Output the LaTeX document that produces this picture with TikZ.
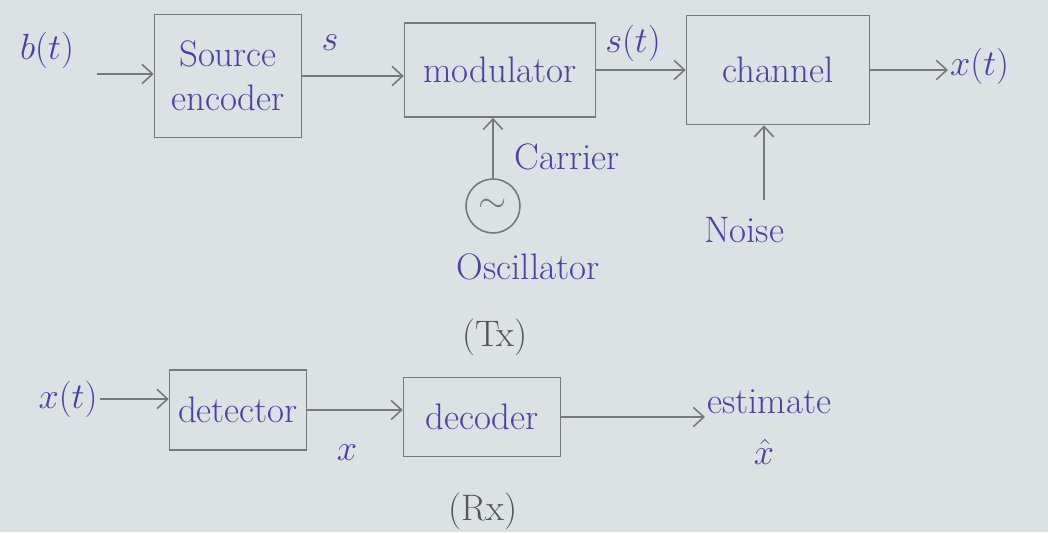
\documentclass[tikz,border=0pt]{standalone}
\usetikzlibrary{arrows.meta}
\definecolor{ink}{HTML}{4B40A6}
\definecolor{pencil}{HTML}{76797C}
\definecolor{paper}{HTML}{DCE2E3}
\begin{document}
\begin{tikzpicture}[>={Straight Barb[length=6pt,width=11pt]}, x=0.02cm, y=-0.02cm,
		font=\fontsize{21}{25}\selectfont,
		blk/.style={draw=pencil, line width=0.9pt, text=ink, inner sep=0pt},
		lbl/.style={text=ink, inner sep=1pt},
		arr/.style={->, draw=pencil, line width=0.9pt}]
	\fill[paper] (0,0) rectangle (1048,532);
	\useasboundingbox (0,0) rectangle (1048,532);
	% Tx
	\node[lbl] (bt) at (47,50) {$b(t)$};
	\node[blk, minimum width=2.94cm, minimum height=2.46cm, align=center] (src) at (228,76) {Source\\encoder};
	\node[blk, minimum width=3.82cm, minimum height=1.88cm] (mod) at (500,70) {modulator};
	\node[blk, minimum width=3.66cm, minimum height=2.18cm] (chan) at (778,70) {channel};
	\node[lbl, anchor=west] (xt) at (948,66) {$x(t)$};
	\node[lbl] (s) at (330,43) {$s$};
	\node[lbl] (st) at (633,43) {$s(t)$};
	\node[draw=pencil, circle, line width=0.9pt, minimum size=1.08cm, inner sep=0pt, text=pencil] (osc) at (493,206) {$\sim$};
	\node[lbl] (car) at (567,157) {Carrier};
	\node[lbl] (oscl) at (528,267) {Oscillator};
	\node[lbl] (noise) at (744,230) {Noise};
	\node[text=pencil!70!black] (tx) at (495,337) {(Tx)};
	\coordinate (bin) at (97,74);
	\coordinate (nz) at (764,200);
	\draw[arr] (bin) -- (bin -| src.west);
	\draw[arr] (src.east) -- (src.east -| mod.west);
	\draw[arr] (mod.east) -- (chan.west);
	\draw[arr] (chan.east) -- (chan.east -| xt.west);
	\draw[arr] (osc.north) -- (osc.north |- mod.south);
	\draw[arr] (nz) -- (nz |- chan.south);
	% Rx
	\node[lbl] (xt2) at (68,399) {$x(t)$};
	\node[blk, minimum width=2.74cm, minimum height=1.6cm] (det) at (238,410) {detector};
	\node[blk, minimum width=3.14cm, minimum height=1.58cm] (dec) at (482,417) {decoder};
	\node[lbl] (x) at (347,453) {$x$};
	\node[lbl, anchor=west] (est) at (705,402) {estimate};
	\node[lbl] (xh) at (764,452) {$\hat{x}$};
	\node[text=pencil!70!black] (rx) at (483,511) {(Rx)};
	\draw[arr] (xt2.east) -- (xt2.east -| det.west);
	\draw[arr] (det.east) -- (det.east -| dec.west);
	\draw[arr] (dec.east) -- (dec.east -| est.west);
\end{tikzpicture}
\end{document}
